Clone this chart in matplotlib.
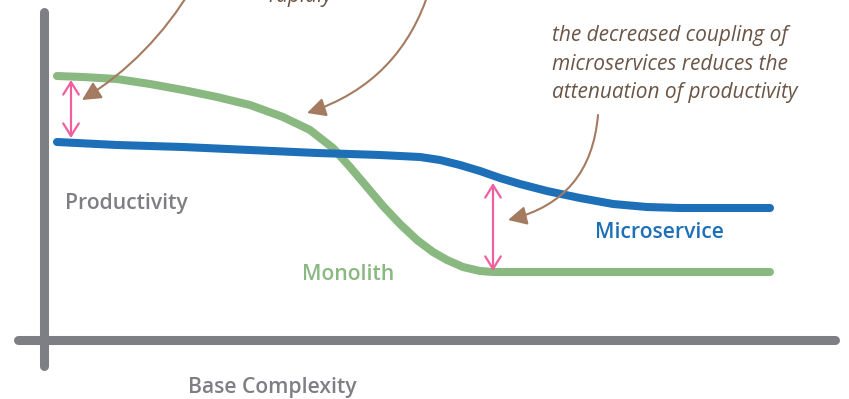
import matplotlib
matplotlib.use("Agg")
import matplotlib.pyplot as plt
from matplotlib.patches import FancyArrowPatch

# curve points (pixel coords, y down)
mono_x = [57, 83, 117, 150, 183, 217, 250, 283, 310, 333, 350, 367, 383, 400, 417,
          433, 447, 463, 480, 493, 600, 700, 770]
mono_y = [76, 77, 79, 84, 90, 97, 105, 117, 130, 148, 167, 187, 206, 224, 240,
          252, 260, 267, 271, 272, 272, 272, 272]

micro_x = [57, 117, 183, 250, 317, 350, 380, 400, 420, 440, 460, 480, 500, 520, 547,
           580, 613, 647, 680, 770]
micro_y = [142, 145, 147, 150, 153, 154, 155, 156, 157, 160, 165, 171, 178, 184, 191,
           198, 204, 207, 208, 208]

# gap arrows: x, top, bottom
gap_x = [71, 493]
gap_top = [80, 183]
gap_bot = [138, 271]

# brown callout arrows: start, tip, bend
call_start = [(192, -12), (430, -12), (598, 115)]
call_tip = [(82, 100), (307, 113), (508, 220)]
call_rad = [-0.12, -0.26, -0.36]

note = "the decreased coupling of\nmicroservices reduces the\nattenuation of productivity"

green = "#89b880"
blue = "#1d6fb8"
pink = "#ef5f9f"
brown = "#a47b61"
note_col = "#6a5546"
grey = "#7e7f84"

fig = plt.figure(figsize=(8.49, 3.99), dpi=100, facecolor='w')
ax = fig.add_axes([0, 0, 1, 1])
ax.set_xlim(0, 849)
ax.set_ylim(399, 0)
ax.axis('off')

# axes bars
ax.plot([44, 44], [12, 366], color=grey, lw=6.5, solid_capstyle='round', zorder=1)
ax.plot([18, 835], [340, 340], color=grey, lw=6.5, solid_capstyle='round', zorder=1)

ax.plot(mono_x, mono_y, color=green, lw=5.8, solid_capstyle='round', solid_joinstyle='round', zorder=3)
ax.plot(micro_x, micro_y, color=blue, lw=5.8, solid_capstyle='round', solid_joinstyle='round', zorder=4)

for x, t, b in zip(gap_x, gap_top, gap_bot):
    ax.add_patch(FancyArrowPatch((x, t), (x, b), arrowstyle='<->,head_length=0.45,head_width=0.28',
                                 mutation_scale=20, color=pink, lw=1.6, zorder=5,
                                 shrinkA=0, shrinkB=0))

for s, e, r in zip(call_start, call_tip, call_rad):
    ax.add_patch(FancyArrowPatch(s, e, connectionstyle='arc3,rad=%s' % r,
                                 arrowstyle='-|>,head_length=0.75,head_width=0.38',
                                 mutation_scale=15, color=brown, lw=1.5, zorder=6,
                                 shrinkA=0, shrinkB=0))

lab = dict(fontsize=15.2, fontfamily='Open Sans', fontweight='semibold', va='center', ha='left')
ax.text(65, 203, "Productivity", color=grey, **lab)
ax.text(188, 387, "Base Complexity", color=grey, **lab)
ax.text(302, 275, "Monolith", color=green, **lab)
ax.text(595, 232, "Microservice", color=blue, **lab)

ax.text(552, 64, note, color=note_col, fontsize=15, fontfamily='Open Sans', style='italic',
        va='center', ha='left', linespacing=1.45)
ax.text(268, 2, "rapidly", color=note_col, fontsize=15, fontfamily='Open Sans', style='italic',
        va='baseline', ha='left')

fig.savefig("out.png", dpi=100)
